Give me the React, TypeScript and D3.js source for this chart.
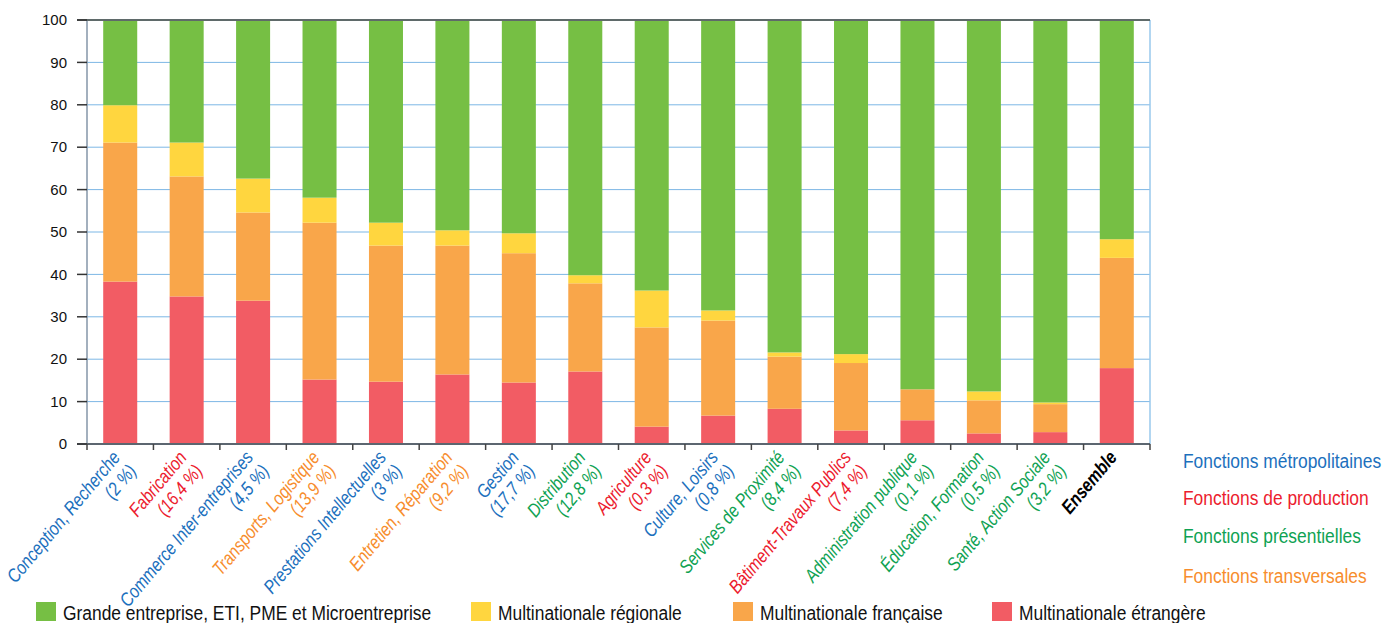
import React from 'react';
import { scaleBand, scaleLinear, stack } from 'd3';

// Catégories (fonctions) et poids dans l'emploi
const categories = [
  'Conception, Recherche',
  'Fabrication',
  'Commerce Inter-entreprises',
  'Transports, Logistique',
  'Prestations Intellectuelles',
  'Entretien, Réparation',
  'Gestion',
  'Distribution',
  'Agriculture',
  'Culture, Loisirs',
  'Services de Proximité',
  'Bâtiment-Travaux Publics',
  'Administration publique',
  'Éducation, Formation',
  'Santé, Action Sociale',
  'Ensemble',
];
const familles = [
  'metro', 'prod', 'metro', 'transv', 'metro', 'transv', 'metro', 'pres',
  'prod', 'metro', 'pres', 'prod', 'pres', 'pres', 'pres', 'total',
];
const poids = [
  '(2 %)', '(16,4 %)', '(4,5 %)', '(13,9 %)', '(3 %)', '(9,2 %)', '(17,7 %)', '(12,8 %)',
  '(0,3 %)', '(0,8 %)', '(8,4 %)', '(7,4 %)', '(0,1 %)', '(0,5 %)', '(3,2 %)', '',
];

// Séries (en %), de bas en haut
const multiEtrangere = [38.3, 34.8, 33.8, 15.2, 14.7, 16.4, 14.5, 17.1, 4.1, 6.7, 8.3, 3.2, 5.6, 2.5, 2.8, 17.9];
const multiFrancaise = [32.8, 28.3, 20.8, 37.0, 32.1, 30.4, 30.5, 20.8, 23.4, 22.4, 12.3, 15.9, 7.3, 7.8, 6.6, 26.0];
const multiRegionale = [8.8, 8.0, 8.0, 5.9, 5.4, 3.6, 4.7, 1.9, 8.7, 2.4, 1.0, 2.1, 0.0, 2.1, 0.4, 4.4];
const grandeEntreprise = [20.1, 28.9, 37.4, 41.9, 47.8, 49.6, 50.3, 60.2, 63.8, 68.5, 78.4, 78.8, 87.1, 87.6, 90.2, 51.7];

const yTicks = [0, 10, 20, 30, 40, 50, 60, 70, 80, 90, 100];

const seriesKeys = ['etrangere', 'francaise', 'regionale', 'pme'];
const seriesColors: Record<string, string> = {
  etrangere: '#f25c64',
  francaise: '#f9a64a',
  regionale: '#ffd63f',
  pme: '#76bf44',
};
const legendItems = [
  { key: 'pme', label: 'Grande entreprise, ETI, PME et Microentreprise', x: 36 },
  { key: 'regionale', label: 'Multinationale régionale', x: 471 },
  { key: 'francaise', label: 'Multinationale française', x: 733 },
  { key: 'etrangere', label: 'Multinationale étrangère', x: 992 },
];

const familleColors: Record<string, string> = {
  metro: '#1c70bd',
  prod: '#ec1c2e',
  pres: '#0fa253',
  transv: '#f78d2d',
  total: '#000000',
};
const familleLegend = [
  { key: 'metro', label: 'Fonctions métropolitaines', y: 468 },
  { key: 'prod', label: 'Fonctions de production', y: 505 },
  { key: 'pres', label: 'Fonctions présentielles', y: 543 },
  { key: 'transv', label: 'Fonctions transversales', y: 583 },
];

const W = 1382;
const H = 623;
const margin = { top: 20, right: 232, bottom: 179, left: 87 };
// police condensée simulée (pas de Helvetica Condensed disponible)
const squeeze = 0.87;
const labelSqueeze = 0.83;

const App: React.FC = () => {
  const rows = categories.map((c, i) => ({
    cat: c,
    etrangere: multiEtrangere[i],
    francaise: multiFrancaise[i],
    regionale: multiRegionale[i],
    pme: grandeEntreprise[i],
  }));
  const series = stack<any>().keys(seriesKeys)(rows);

  const x = scaleBand<string>()
    .domain(categories)
    .range([margin.left, W - margin.right])
    .paddingInner(0.488)
    .paddingOuter(0.244);
  const y = scaleLinear().domain([0, 100]).range([H - margin.bottom, margin.top]);

  const x0 = margin.left;
  const x1 = W - margin.right;
  const step = x.step();
  const bounds = categories.map((_, i) => x0 + i * step).concat([x1]);

  return (
    <svg
      width={W}
      height={H}
      style={{ position: 'absolute', left: 0, top: 0, fontFamily: '"Liberation Sans", Arial, sans-serif' }}
    >
      {/* grille */}
      {yTicks.slice(1, -1).map((t) => (
        <line key={t} x1={x0} x2={x1} y1={y(t)} y2={y(t)} stroke="#7db7e5" strokeWidth={1} />
      ))}
      <line x1={x1} x2={x1} y1={y(100)} y2={y(0)} stroke="#99c8ec" strokeWidth={1.5} />

      {/* barres empilées */}
      {series.map((s) => (
        <g key={s.key} fill={seriesColors[s.key]}>
          {s.map((d, i) => (
            <rect
              key={i}
              x={x(categories[i])}
              width={x.bandwidth()}
              y={y(d[1])}
              height={Math.max(0, y(d[0]) - y(d[1]))}
            />
          ))}
        </g>
      ))}

      {/* axes */}
      <line x1={x0} x2={x0} y1={y(100)} y2={y(0)} stroke="#8496a8" strokeWidth={1.5} />
      <line x1={x0 - 10} x2={x1} y1={y(100)} y2={y(100)} stroke="#5f6a6a" strokeWidth={2} />
      <line x1={x0 - 10} x2={x1} y1={y(0)} y2={y(0)} stroke="#5c6670" strokeWidth={2} />
      {yTicks.map((t) => (
        <g key={t} transform={`translate(0,${y(t)})`}>
          <line x1={x0 - 10} x2={x0} stroke="#333" strokeWidth={1.5} />
          <text x={x0 - 20} dy="0.35em" textAnchor="end" fontSize={15} fill="#111">
            {t}
          </text>
        </g>
      ))}
      {bounds.map((b, i) => (
        <line key={i} x1={b} x2={b} y1={y(0)} y2={y(0) + 6} stroke="#444" strokeWidth={1.5} />
      ))}

      {/* étiquettes des catégories */}
      {categories.map((c, i) => {
        const cx = (x(c) as number) + x.bandwidth() / 2 + 1;
        const total = familles[i] === 'total';
        return (
          <g key={c} transform={`translate(${cx},${y(0) + 14}) rotate(-50) scale(${labelSqueeze},1)`}>
            <text
              textAnchor="end"
              fontSize={19}
              fontStyle="italic"
              fontWeight={total ? 'bold' : 'normal'}
              fill={familleColors[familles[i]]}
            >
              <tspan x={0} y={0}>
                {c}
              </tspan>
              {poids[i] && (
                <tspan x={0} y={21}>
                  {poids[i]}
                </tspan>
              )}
            </text>
          </g>
        );
      })}

      {/* légende des familles */}
      {familleLegend.map((f) => (
        <text
          key={f.key}
          transform={`translate(1183,${f.y}) scale(${squeeze},1)`}
          fontSize={20}
          fill={familleColors[f.key]}
        >
          {f.label}
        </text>
      ))}

      {/* légende des séries */}
      {legendItems.map((l) => (
        <g key={l.key}>
          <rect x={l.x} y={602} width={20} height={19} fill={seriesColors[l.key]} />
          <text transform={`translate(${l.x + 27},620) scale(${squeeze},1)`} fontSize={20} fill="#111">
            {l.label}
          </text>
        </g>
      ))}
    </svg>
  );
};

export default App;
